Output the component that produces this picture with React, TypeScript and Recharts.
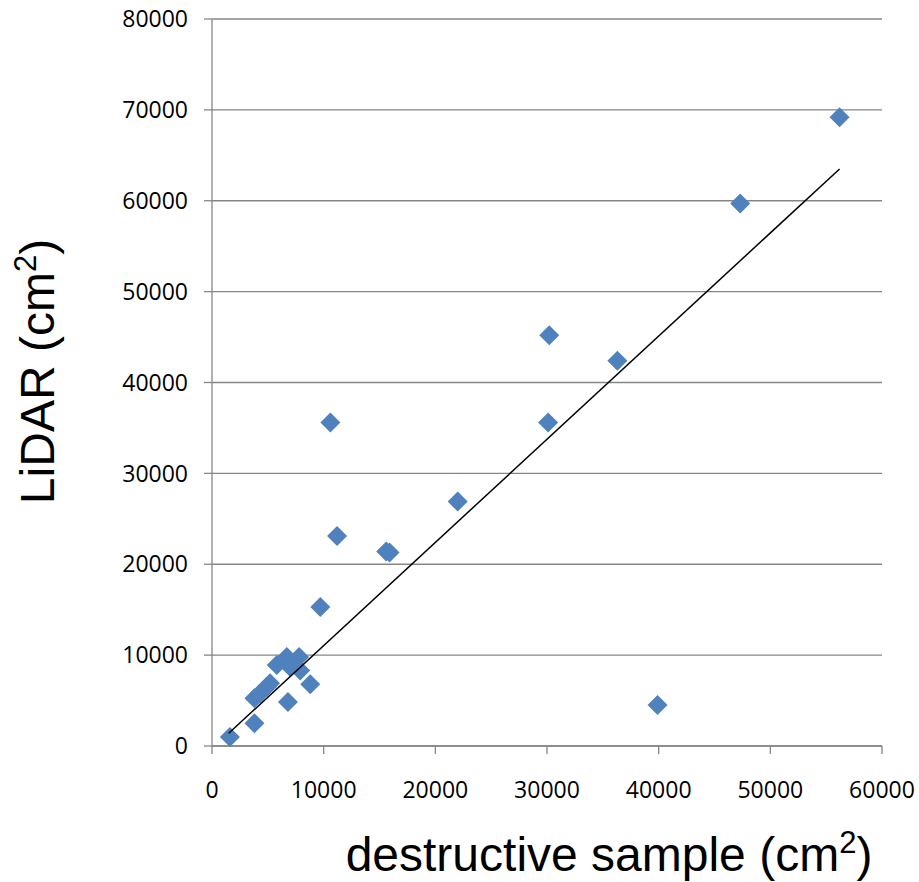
import React from 'react';
import { ScatterChart, Scatter, XAxis, YAxis, CartesianGrid } from 'recharts';

// destructive sample area vs LiDAR estimate, both cm²
const sampleArea = [
  1600, 3800, 3800, 4300, 4900, 5200, 5800, 6700, 7000, 7800, 7900, 6800, 8800,
  9700, 10600, 11200, 15600, 15900, 22000, 30100, 30200, 36300, 39900, 47300, 56200,
];
const lidarArea = [
  1000, 2500, 5250, 5800, 6500, 6900, 8900, 9800, 8700, 9800, 8300, 4850, 6800,
  15300, 35600, 23100, 21400, 21300, 26900, 35600, 45200, 42400, 4500, 59700, 69200,
];

// fitted trend line end points
const trendX = [1500, 56200];
const trendY = [1400, 63500];

const xTicks = [0, 10000, 20000, 30000, 40000, 50000, 60000];
const yTicks = [0, 10000, 20000, 30000, 40000, 50000, 60000, 70000, 80000];

const points = sampleArea.map((x, i) => ({ x, y: lidarArea[i] }));
const trend = trendX.map((x, i) => ({ x, y: trendY[i] }));

const Diamond = (props: any) => {
  const { cx, cy } = props;
  const r = 10;
  return <polygon points={`${cx},${cy - r} ${cx + r},${cy} ${cx},${cy + r} ${cx - r},${cy}`} fill="#4F81BD" />;
};

const tickStyle = { fontSize: 23, fill: '#000', fontFamily: '"Open Sans", sans-serif' };
const titleFont = '"Liberation Sans", Arial, sans-serif';

// title text with a real superscript 2
const AreaTitle = ({ label }: { label: string }) => (
  <>
    {label} (cm
    <tspan fontSize={31} dy={-18}>2</tspan>
    <tspan dy={18}>)</tspan>
  </>
);

const App: React.FC = () => {
  return (
    <div style={{ position: 'absolute', left: 0, top: 0, width: 919, height: 882, background: '#fff' }}>
      <ScatterChart width={919} height={882} margin={{ top: 19, right: 37, bottom: 0, left: 0 }}>
        <CartesianGrid horizontal vertical={false} stroke="#868686" strokeWidth={1.3} />
        <XAxis
          type="number"
          dataKey="x"
          domain={[0, 60000]}
          ticks={xTicks}
          height={136}
          stroke="#868686"
          strokeWidth={1.3}
          tickSize={8}
          tickMargin={28}
          tick={tickStyle}
          interval={0}
          label={{
            content: (p: any) => {
              const vb = p.viewBox;
              return (
                <text x={vb.x + vb.width / 2 + 62} y={871} textAnchor="middle" fontSize={48} fontFamily={titleFont} fill="#000">
                  <AreaTitle label="destructive sample" />
                </text>
              );
            },
          }}
        />
        <YAxis
          type="number"
          dataKey="y"
          domain={[0, 80000]}
          ticks={yTicks}
          width={212}
          stroke="#868686"
          strokeWidth={1.3}
          tickSize={8}
          tickMargin={16}
          tick={tickStyle}
          interval={0}
          label={{
            content: (p: any) => {
              const vb = p.viewBox;
              const cx = 54;
              const cy = vb.y + vb.height / 2 - 11;
              return (
                <text
                  x={cx}
                  y={cy}
                  transform={`rotate(-90 ${cx} ${cy})`}
                  textAnchor="middle"
                  fontSize={48}
                  fontFamily={titleFont}
                  fill="#000"
                >
                  <AreaTitle label="LiDAR" />
                </text>
              );
            },
          }}
        />
        <Scatter data={points} shape={<Diamond />} isAnimationActive={false} />
        <Scatter
          data={trend}
          line={{ stroke: '#000', strokeWidth: 1.5 }}
          shape={() => <g />}
          isAnimationActive={false}
        />
      </ScatterChart>
    </div>
  );
};

export default App;
